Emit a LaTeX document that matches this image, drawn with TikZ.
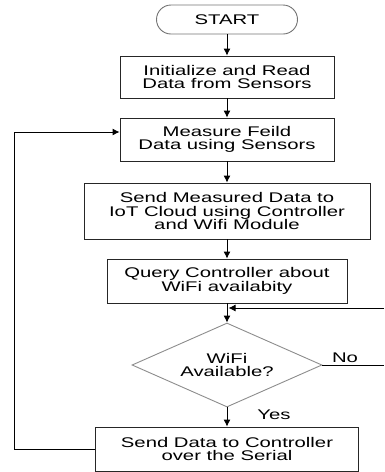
\documentclass[tikz,border=0pt]{standalone}
\usepackage{fontspec}
\setmainfont[FakeStretch=1.45]{Liberation Sans}
\usetikzlibrary{shapes.geometric,arrows.meta}
\begin{document}
\begin{tikzpicture}[x=1pt,y=-1pt,
  txt/.style={font=\fontsize{14}{13.5}\selectfont},
  box/.style={txt, draw=black!85, line width=0.9pt, align=center, inner sep=0pt},
  dec/.style={txt, draw=black!45, line width=0.9pt, align=center, inner sep=0pt, diamond, aspect=2.26},
  arr/.style={-{Latex[length=7pt,width=7pt]}, line width=0.9pt},
  ln/.style={line width=0.9pt}]
\useasboundingbox (0,0) rectangle (384,472);
\node[box, draw=black!55, rounded corners=14.5pt, minimum width=141pt, minimum height=29pt] (start) at (227,19.5) {START};
\node[box, minimum width=214pt, minimum height=42pt] (b1) at (227,77) {Initialize and Read\\Data from Sensors};
\node[box, minimum width=214pt, minimum height=43pt] (b2) at (227,139.5) {Measure Feild\\Data using Sensors};
\node[box, minimum width=286pt, minimum height=56pt] (b3) at (227,211) {Send Measured Data to\\IoT Cloud using Controller\\and Wifi Module};
\node[box, minimum width=240pt, minimum height=44pt] (b4) at (227,281) {Query Controller about\\WiFi availabity};
\node[dec, minimum width=190pt, minimum height=84pt] (dia) at (227,365) {WiFi\\Available?};
\node[box, minimum width=263pt, minimum height=44pt] (b5) at (227,449) {Send Data to Controller\\over the Serial};
\node[txt, inner sep=0pt] (no) at (345,358) {No};
\node[txt, inner sep=0pt] (yes) at (274,415) {Yes};
\coordinate (j) at (228.5,308);
\coordinate (nr) at (384,308);
\coordinate (ne) at (384,365);
\coordinate (lc) at (14,449);
\draw[arr] (start) -- (b1);
\draw[arr] (b1) -- (b2);
\draw[arr] (b2) -- (b3);
\draw[arr] (b3) -- (b4);
\draw[arr] (b4) -- (dia);
\draw[arr] (nr) -- (j);
\draw[ln] (dia.east) -- (ne);
\draw[arr] (dia) -- (b5);
\draw[arr] (b5.west) -- (lc) |- ([yshift=7.5pt]b2.west);
\end{tikzpicture}
\end{document}
